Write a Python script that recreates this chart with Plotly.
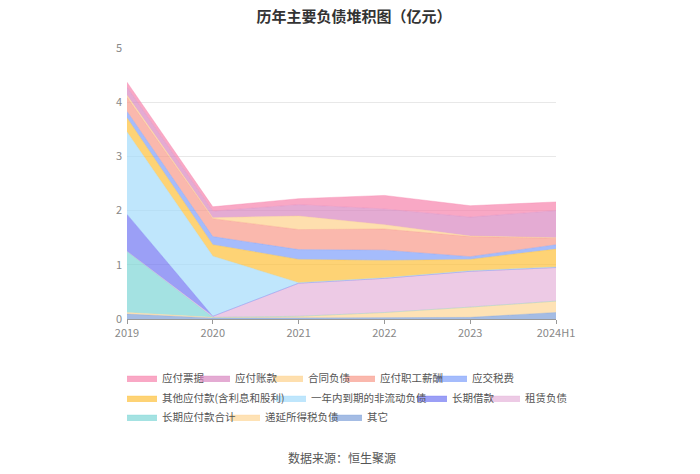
import plotly.graph_objects as go

years = ["2019", "2020", "2021", "2022", "2023", "2024H1"]

# values in 亿元, listed in legend order
names = ["应付票据", "应付账款", "合同负债", "应付职工薪酬", "应交税费",
         "其他应付款(含利息和股利)", "一年内到期的非流动负债", "长期借款", "租赁负债",
         "长期应付款合计", "递延所得税负债", "其它"]

v_yfpj = [0.09, 0.08, 0.11, 0.25, 0.21, 0.16]   # 应付票据
v_yfzk = [0.15, 0.12, 0.21, 0.29, 0.35, 0.50]   # 应付账款
v_htfz = [0.04, 0.02, 0.25, 0.08, 0.01, 0.01]   # 合同负债
v_zgxc = [0.26, 0.33, 0.37, 0.39, 0.37, 0.12]   # 应付职工薪酬
v_yjsf = [0.12, 0.15, 0.18, 0.19, 0.05, 0.08]   # 应交税费
v_qtyf = [0.26, 0.21, 0.43, 0.32, 0.21, 0.33]   # 其他应付款
v_ynndq = [1.52, 1.11, 0.01, 0.01, 0.01, 0.01]  # 一年内到期的非流动负债
v_cqjk = [0.68, 0.00, 0.00, 0.00, 0.00, 0.00]   # 长期借款
v_zlfz = [0.00, 0.02, 0.61, 0.63, 0.66, 0.62]   # 租赁负债
v_cqyf = [1.13, 0.00, 0.00, 0.00, 0.00, 0.00]   # 长期应付款合计
v_dysds = [0.03, 0.01, 0.03, 0.10, 0.19, 0.21]  # 递延所得税负债
v_qt = [0.09, 0.02, 0.02, 0.02, 0.03, 0.12]     # 其它

series = [v_yfpj, v_yfzk, v_htfz, v_zgxc, v_yjsf, v_qtyf,
          v_ynndq, v_cqjk, v_zlfz, v_cqyf, v_dysds, v_qt]

colors = ["#f783ac", "#d988c1", "#fdd28c", "#f89a8a", "#7fa0fb", "#fdc13b",
          "#a4dcfb", "#7076f2", "#e5b3da", "#7dd6d6", "#fdd596", "#7ea0d9"]

# legend layout (page pixels of each entry's text start, and row centre)
legend_text_x = [162, 235, 308, 380, 472, 162, 311, 452, 525, 162, 265, 367]
legend_row_y = [378, 378, 378, 378, 378, 398, 398, 398, 398, 417, 417, 417]

# the page body has an 8px margin; the figure is sized to fit the window
OFF = 8
W, H = 700 - OFF, 474 - OFF


def rgba(hex_color, a):
    h = hex_color.lstrip("#")
    r, g, b = int(h[0:2], 16), int(h[2:4], 16), int(h[4:6], 16)
    return f"rgba({r},{g},{b},{a})"


def legend_key(i):
    return "legend" if i == 0 else f"legend{i + 1}"


fig = go.Figure()
xs = list(range(len(years)))
# stack bottom-up: reverse of legend order
for i in reversed(range(len(names))):
    col = colors[i]
    fig.add_trace(go.Scatter(
        x=xs, y=series[i], name=names[i], mode="lines",
        stackgroup="one",
        line=dict(width=0.5, color=rgba(col, 0.75)),
        fillcolor=rgba(col, 0.7),
        legend=legend_key(i),
        hoverinfo="name+y",
    ))

font_family = "Noto Sans CJK SC, Noto Sans, sans-serif"

legends = {}
for i in range(len(names)):
    lx = legend_text_x[i] - 40 - OFF
    ly = legend_row_y[i] - OFF
    legends[legend_key(i)] = dict(
        orientation="h", xref="container", yref="container",
        x=lx / W, xanchor="left", y=1 - ly / H, yanchor="middle",
        font=dict(size=10.5, color="#555", family=font_family),
        itemwidth=30, bgcolor="rgba(0,0,0,0)", borderwidth=0)

plot_left, plot_right, plot_top, plot_bottom = 127, 556, 48, 319

fig.update_layout(
    width=W, height=H,
    margin=dict(l=plot_left - OFF, r=W - (plot_right - OFF),
                t=plot_top - OFF, b=H - (plot_bottom - OFF), autoexpand=False),
    paper_bgcolor="white", plot_bgcolor="white",
    font=dict(family=font_family, size=11, color="#666"),
    title=dict(text="<b>历年主要负债堆积图（亿元）</b>", x=0.5, xanchor="center",
               xref="container", yref="container",
               y=1 - 3 / H, yanchor="top", pad=dict(t=0, b=0),
               font=dict(size=15, color="#333", family=font_family)),
    xaxis=dict(range=[0, 5], tickmode="array", tickvals=xs, ticktext=years,
               showgrid=False, zeroline=False, showline=True, linecolor="#999",
               ticks="outside", ticklen=4, tickcolor="#999",
               tickfont=dict(size=11, color="#888")),
    yaxis=dict(range=[0, 5], dtick=1, showgrid=True, gridcolor="#e8e8e8",
               zeroline=False, showline=False, ticks="",
               ticklabelstandoff=4,
               tickfont=dict(size=11, color="#888")),
    showlegend=True,
    annotations=[dict(text="数据来源：恒生聚源", x=0.5, xref="paper", xanchor="center",
                      y=(plot_bottom - 457) / (plot_bottom - plot_top), yref="paper",
                      yanchor="middle", showarrow=False,
                      font=dict(size=12, color="#555"))],
    **legends,
)

fig.write_html("out.html")
